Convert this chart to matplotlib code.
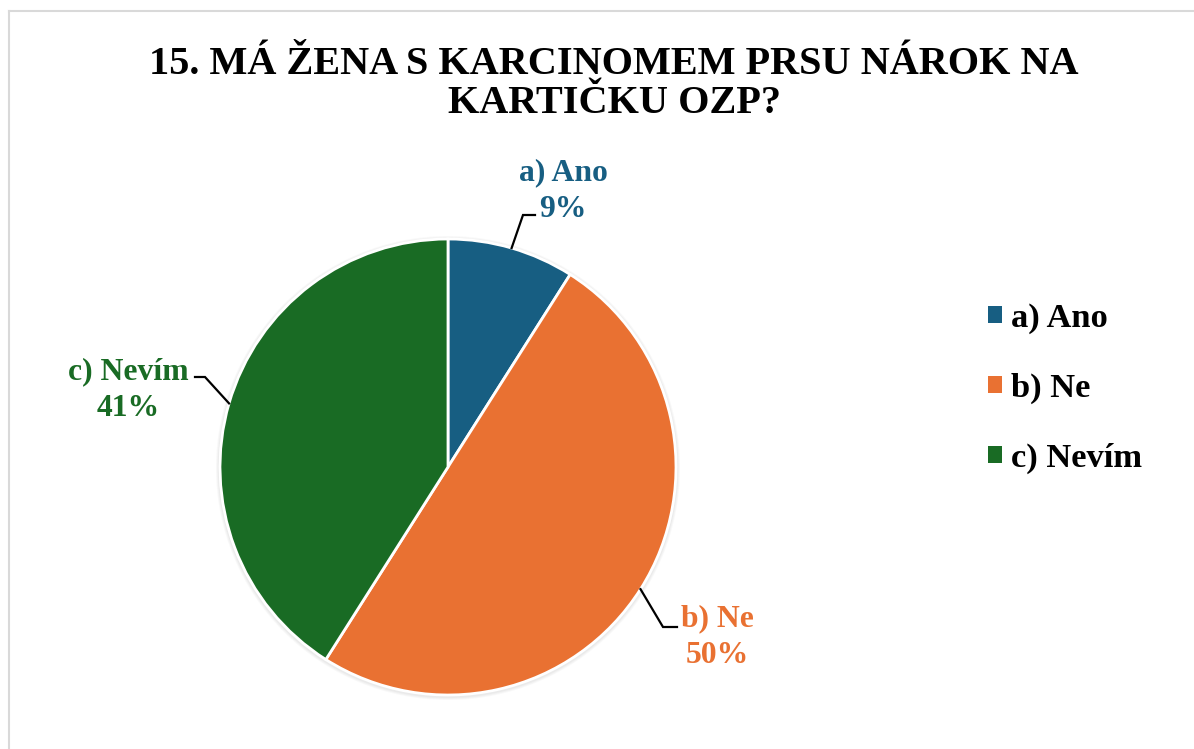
import numpy as np
import matplotlib
matplotlib.use('Agg')
import matplotlib.pyplot as plt
from matplotlib.patches import Patch, Circle

# data
categories = ['a) Ano', 'b) Ne', 'c) Nevím']
shares = [9, 50, 41]
colors = ['#175E82', '#E97132', '#196B24']
title = '15. MÁ ŽENA S KARCINOMEM PRSU NÁROK NA\nKARTIČKU OZP?'

W, H = 1194, 749
plt.rcParams['font.family'] = ['Liberation Serif', 'DejaVu Serif']
plt.rcParams['font.weight'] = 'bold'

fig = plt.figure(figsize=(W / 100, H / 100), dpi=100)
ax = fig.add_axes([0, 0, 1, 1])

cx, cy, r = 448, H - 467, 228

# soft shadow around the pie
for i, a in enumerate([0.05, 0.05, 0.06]):
    ax.add_patch(Circle((cx, cy - 1), r + 4 - i, color='#808080', alpha=a, lw=0, zorder=0))

wedges, _ = ax.pie(shares, colors=colors, startangle=90, counterclock=False,
                   center=(cx, cy), radius=r,
                   wedgeprops=dict(edgecolor='white', linewidth=2))
ax.set_xlim(0, W)
ax.set_ylim(0, H)
ax.set_aspect('equal')
ax.axis('off')

# label positions (text centre, in pixels from top-left) and elbow points
label_pos = [(563, 191), (717, 637), (128, 390)]
elbows = [(523, 215, 535, 215), (663, 627, 677, 627), (205, 377, 195, 377)]

for w, pct, cat, col, (lx, ly), (ex, ey, hx, hy) in zip(wedges, shares, categories, colors, label_pos, elbows):
    mid = np.deg2rad((w.theta1 + w.theta2) / 2)
    ax_pt = cx + r * np.cos(mid)
    ay_pt = cy + r * np.sin(mid)
    ax.plot([ax_pt, ex, hx], [ay_pt, H - ey, H - hy], color='black', lw=1.6,
            solid_joinstyle='miter', zorder=3)
    ax.text(lx, H - ly, f'{cat}\n{pct}%', color=col, fontsize=22.8, fontweight='bold',
            ha='center', va='center', linespacing=1.35)

ax.text(614, H - 84, title, fontsize=29, fontweight='bold', ha='center', va='center',
        linespacing=1.06)

# chart frame (only top and left visible in the crop)
ax.plot([9, W], [H - 11, H - 11], color='#d9d9d9', lw=1.5, clip_on=False)
ax.plot([9, 9], [H - 11, 0], color='#d9d9d9', lw=1.5, clip_on=False)

handles = [Patch(facecolor=c, edgecolor='none') for c in colors]
fig.legend(handles, categories, loc='upper left', bbox_to_anchor=(988 / W, 1 - 303 / H),
           frameon=False, prop=dict(size=24.8, weight='bold'), handlelength=0.4,
           handleheight=0.4, handletextpad=0.28, labelspacing=1.12, borderpad=0,
           borderaxespad=0)

fig.savefig('out.png', dpi=100)
